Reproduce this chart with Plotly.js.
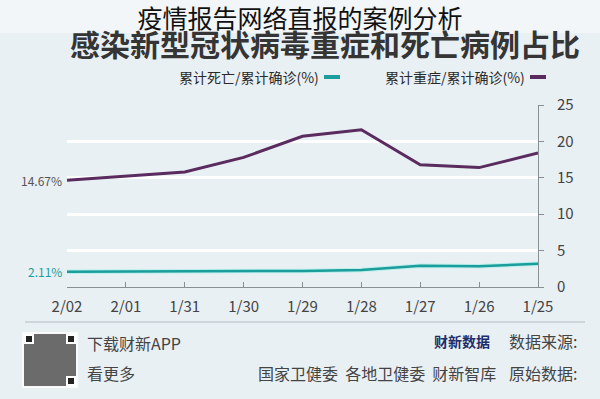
<!DOCTYPE html>
<html>
<head>
<meta charset="utf-8">
<script src="https://cdn.plot.ly/plotly-3.0.1.min.js"></script>
<style>
html,body{margin:0;padding:0;background:#e9f0f4;}
#chart{width:600px;height:399px;}
</style>
</head>
<body>
<div id="chart"></div>
<script>
// ---- data ----
var dates = ['1/25','1/26','1/27','1/28','1/29','1/30','1/31','2/01','2/02'];
var severeRatio = [18.4, 16.4, 16.8, 21.6, 20.7, 17.8, 15.8, 15.2, 14.67];
var deathRatio  = [3.19, 2.84, 2.92, 2.35, 2.21, 2.20, 2.20, 2.20, 2.11];
var yTicks = [0, 5, 10, 15, 20, 25];
var seriesNames = ['累计重症/累计确诊(%)', '累计死亡/累计确诊(%)'];
var lastSevereLabel = '14.67%';
var lastDeathLabel = '2.11%';

// ---- geometry helpers (pixel -> paper) ----
var W = 600, H = 399;
var L = 67, R = 538, T = 105, B = 287;
function px(x){ return (x - L) / (R - L); }
function py(y){ return (B - y) / (B - T); }

var font = '"Noto Sans CJK SC", "Noto Sans", sans-serif';
var purple = '#5a2b5e', teal = '#1b9d9b';

var traces = [
  {x: dates, y: deathRatio, type: 'scatter', mode: 'lines', showlegend: false, hoverinfo: 'skip',
   line: {color: '#b8efec', width: 4.5}},
  {x: dates, y: deathRatio, type: 'scatter', mode: 'lines', name: seriesNames[1], showlegend: false,
   line: {color: teal, width: 2.5}},
  {x: dates, y: severeRatio, type: 'scatter', mode: 'lines', name: seriesNames[0], showlegend: false,
   line: {color: purple, width: 3}}
];

var n = dates.length;
var annotations = [
  {xref: 'paper', yref: 'paper', x: px(325), y: py(43), text: '<b>感染新型冠状病毒重症和死亡病例占比</b>',
   showarrow: false, font: {family: font, size: 30, color: '#353535'}, xanchor: 'center', yanchor: 'middle'},
  {xref: 'paper', yref: 'paper', x: px(527), y: py(77), text: seriesNames[0], showarrow: false,
   font: {family: font, size: 14, color: '#2a2a2a'}, xanchor: 'right', yanchor: 'middle'},
  {xref: 'paper', yref: 'paper', x: px(321), y: py(77), text: seriesNames[1], showarrow: false,
   font: {family: font, size: 14, color: '#2a2a2a'}, xanchor: 'right', yanchor: 'middle'},
  {x: dates[n-1], y: severeRatio[n-1], xref: 'x', yref: 'y', text: lastSevereLabel, showarrow: false,
   xanchor: 'right', xshift: -3, font: {family: font, size: 12, color: '#555'}},
  {x: dates[n-1], y: deathRatio[n-1], xref: 'x', yref: 'y', text: lastDeathLabel, showarrow: false,
   xanchor: 'right', xshift: -3, font: {family: font, size: 12, color: teal}},
  {xref: 'paper', yref: 'paper', x: px(579), y: py(341), text: '数据来源:', showarrow: false,
   font: {family: font, size: 16, color: '#444'}, xanchor: 'right', yanchor: 'middle'},
  {xref: 'paper', yref: 'paper', x: px(492), y: py(341), text: '<b>财新数据</b>', showarrow: false,
   font: {family: font, size: 14, color: '#1f2d6b'}, xanchor: 'right', yanchor: 'middle'},
  {xref: 'paper', yref: 'paper', x: px(579), y: py(373), text: '原始数据:', showarrow: false,
   font: {family: font, size: 16, color: '#444'}, xanchor: 'right', yanchor: 'middle'},
  {xref: 'paper', yref: 'paper', x: px(498), y: py(373), text: '国家卫健委  各地卫健委  财新智库', showarrow: false,
   font: {family: font, size: 16, color: '#444'}, xanchor: 'right', yanchor: 'middle'},
  {xref: 'paper', yref: 'paper', x: px(85), y: py(343), text: '下载财新APP', showarrow: false,
   font: {family: font, size: 16, color: '#444'}, xanchor: 'left', yanchor: 'middle'},
  {xref: 'paper', yref: 'paper', x: px(85), y: py(373), text: '看更多', showarrow: false,
   font: {family: font, size: 16, color: '#444'}, xanchor: 'left', yanchor: 'middle'}
];

function rect(x0,y0,x1,y1,fill,line){
  return {type:'rect', xref:'paper', yref:'paper', x0:px(x0), x1:px(x1), y0:py(y0), y1:py(y1),
          fillcolor: fill, line: {width: line ? 1 : 0, color: line || fill}, layer: 'below'};
}
var shapes = [
  rect(0, 0, 600, 33, '#f3f6f8'),
  // legend samples
  {type:'line', xref:'paper', yref:'paper', x0:px(530), x1:px(546), y0:py(77), y1:py(77), line:{color:purple, width:4}},
  {type:'line', xref:'paper', yref:'paper', x0:px(324), x1:px(340), y0:py(77), y1:py(77), line:{color:teal, width:4}},
  // footer separator
  {type:'line', xref:'paper', yref:'paper', x0:px(25), x1:px(585), y0:py(322), y1:py(322), line:{color:'#b5bcc2', width:1}},
  // QR code placeholder
  rect(22, 332, 78, 388, '#fafafa'),
  rect(24, 334, 76, 386, '#6b6b6b'),
  rect(24, 334, 34, 344, '#ffffff'), rect(26, 336, 32, 342, '#222222'),
  rect(66, 334, 76, 344, '#ffffff'), rect(68, 336, 74, 342, '#222222'),
  rect(66, 376, 76, 386, '#ffffff'), rect(68, 378, 74, 384, '#222222')
];

var layout = {
  width: W, height: H,
  margin: {l: L, r: W - R, t: T, b: H - B, pad: 0},
  paper_bgcolor: '#e9f0f4',
  plot_bgcolor: 'rgba(0,0,0,0)',
  title: {text: '疫情报告网络直报的案例分析', x: 0.5, xanchor: 'center', y: 1 - 19 / H, yanchor: 'middle',
          font: {family: font, size: 25, color: '#111'}},
  showlegend: false,
  xaxis: {
    type: 'category', range: [n - 1, 0], showgrid: false, zeroline: false,
    showline: true, linecolor: '#8a8f94', linewidth: 1,
    ticks: 'inside', ticklen: 5, tickcolor: '#8a8f94',
    ticklabelstandoff: 6,
    tickfont: {family: font, size: 15, color: '#444'}
  },
  yaxis: {
    side: 'right', range: [0, 25], tickvals: yTicks, ticktext: yTicks.map(String),
    showgrid: true, gridcolor: '#ffffff', gridwidth: 3, zeroline: false,
    showline: true, linecolor: '#8a8f94', linewidth: 1,
    ticks: 'outside', ticklen: 5, tickcolor: '#8a8f94',
    ticklabelstandoff: 10,
    tickfont: {family: font, size: 15, color: '#444'}
  },
  annotations: annotations,
  shapes: shapes,
  hovermode: false
};

Plotly.newPlot('chart', traces, layout, {displayModeBar: false, staticPlot: true});
</script>
</body>
</html>
